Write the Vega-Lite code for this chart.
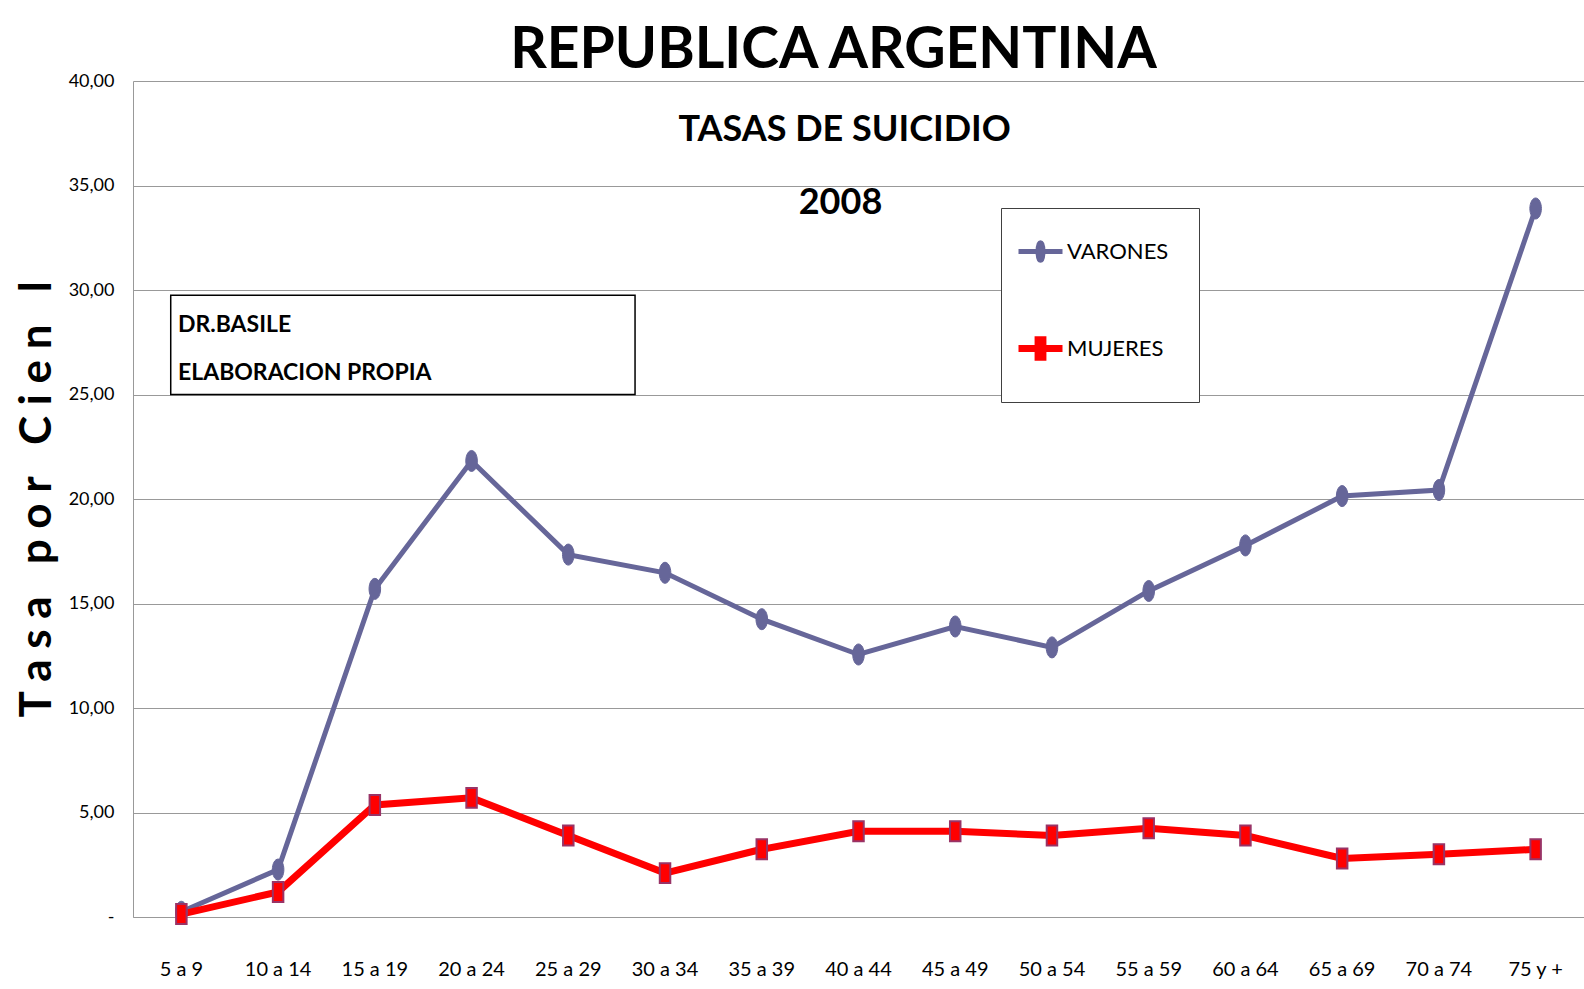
{
  "$schema": "https://vega.github.io/schema/vega-lite/v6.json",
  "width": 1451,
  "height": 836,
  "autosize": {"type": "none"},
  "padding": {"left": 133, "top": 81, "right": 0, "bottom": 72},
  "background": "white",
  "config": {"font": "Lato", "view": {"stroke": null}},
  "title": {"text": "REPUBLICA ARGENTINA", "font": "Lato", "fontSize": 57, "fontWeight": "bold", "color": "black", "anchor": "middle", "frame": "group", "dx": -25, "offset": -8},
  "data": {"values": [
    {"edad": "5 a 9", "sexo": "VARONES", "tasa": 0.25},
    {"edad": "10 a 14", "sexo": "VARONES", "tasa": 2.27},
    {"edad": "15 a 19", "sexo": "VARONES", "tasa": 15.7},
    {"edad": "20 a 24", "sexo": "VARONES", "tasa": 21.82},
    {"edad": "25 a 29", "sexo": "VARONES", "tasa": 17.34},
    {"edad": "30 a 34", "sexo": "VARONES", "tasa": 16.47},
    {"edad": "35 a 39", "sexo": "VARONES", "tasa": 14.25},
    {"edad": "40 a 44", "sexo": "VARONES", "tasa": 12.56},
    {"edad": "45 a 49", "sexo": "VARONES", "tasa": 13.9},
    {"edad": "50 a 54", "sexo": "VARONES", "tasa": 12.9},
    {"edad": "55 a 59", "sexo": "VARONES", "tasa": 15.6},
    {"edad": "60 a 64", "sexo": "VARONES", "tasa": 17.78},
    {"edad": "65 a 69", "sexo": "VARONES", "tasa": 20.14},
    {"edad": "70 a 74", "sexo": "VARONES", "tasa": 20.43},
    {"edad": "75 y +", "sexo": "VARONES", "tasa": 33.9},
    {"edad": "5 a 9", "sexo": "MUJERES", "tasa": 0.14},
    {"edad": "10 a 14", "sexo": "MUJERES", "tasa": 1.2},
    {"edad": "15 a 19", "sexo": "MUJERES", "tasa": 5.36},
    {"edad": "20 a 24", "sexo": "MUJERES", "tasa": 5.7},
    {"edad": "25 a 29", "sexo": "MUJERES", "tasa": 3.9},
    {"edad": "30 a 34", "sexo": "MUJERES", "tasa": 2.1},
    {"edad": "35 a 39", "sexo": "MUJERES", "tasa": 3.24},
    {"edad": "40 a 44", "sexo": "MUJERES", "tasa": 4.1},
    {"edad": "45 a 49", "sexo": "MUJERES", "tasa": 4.1},
    {"edad": "50 a 54", "sexo": "MUJERES", "tasa": 3.9},
    {"edad": "55 a 59", "sexo": "MUJERES", "tasa": 4.25},
    {"edad": "60 a 64", "sexo": "MUJERES", "tasa": 3.9},
    {"edad": "65 a 69", "sexo": "MUJERES", "tasa": 2.8},
    {"edad": "70 a 74", "sexo": "MUJERES", "tasa": 3.0},
    {"edad": "75 y +", "sexo": "MUJERES", "tasa": 3.24}
  ]},
  "resolve": {"scale": {"x": "independent"}},
  "layer": [
    {
      "layer": [
        {
          "mark": {"type": "point", "filled": true, "opacity": 0, "size": 484},
          "encoding": {
            "x": {"field": "edad", "type": "nominal", "sort": null, "scale": {"type": "band", "paddingInner": 0, "paddingOuter": 0},
              "axis": {"title": null, "labelAngle": 0, "ticks": false, "labelPadding": 42, "labelFontSize": 20, "labelFont": "Lato", "labelColor": "black", "domainColor": "#999999", "grid": false}},
            "y": {"field": "tasa", "type": "quantitative", "scale": {"domain": [0, 40], "nice": false},
              "axis": {"title": "T a s a \u00a0 p o r \u00a0 C i e n \u00a0 l", "titleFont": "Lato", "titleFontSize": 44, "titleFontWeight": "bold", "titleColor": "black", "titleAngle": -90, "titleX": -96, "titleY": 418, "titleAlign": "center", "titleBaseline": "middle",
                "values": [0, 5, 10, 15, 20, 25, 30, 35, 40],
                "labelExpr": "datum.value == 0 ? '-' : replace(format(datum.value, '.2f'), '.', ',')",
                "labelFont": "Lato", "labelFontSize": 18, "labelColor": "black", "labelPadding": 19, "ticks": false, "grid": true, "gridColor": "#999999", "domainColor": "#999999"}},
            "color": {"field": "sexo", "type": "nominal", "scale": {"domain": ["VARONES", "MUJERES"], "range": ["#666699", "#FF0000"]},
              "legend": {"title": null, "orient": "none", "legendX": 868, "legendY": 127, "fillColor": "white", "strokeColor": "#404040", "padding": 30, "rowPadding": 54, "labelFont": "Lato", "labelFontSize": 22, "labelColor": "black", "labelOffset": 12, "symbolSize": 484, "symbolOffset": -5, "symbolStrokeWidth": 5, "symbolOpacity": 1, "labelLimit": 300}},
            "stroke": {"field": "sexo", "type": "nominal", "scale": {"domain": ["VARONES", "MUJERES"], "range": ["#666699", "#FF0000"]}},
            "shape": {"field": "sexo", "type": "nominal", "scale": {"domain": ["VARONES", "MUJERES"], "range": ["M-2,0H2M0,-0.8A0.22,0.8,0,1,1,0,0.8A0.22,0.8,0,1,1,0,-0.8Z", "M-2,0H2M-0.22,-0.8H0.22V0.8H-0.22Z"]}}
          }
        },
        {
          "mark": {"type": "line"},
          "encoding": {
            "x": {"field": "edad", "type": "nominal", "sort": null},
            "y": {"field": "tasa", "type": "quantitative"},
            "color": {"field": "sexo", "type": "nominal", "legend": null},
            "strokeWidth": {"field": "sexo", "type": "nominal", "scale": {"domain": ["VARONES", "MUJERES"], "range": [5, 7]}, "legend": null}
          }
        },
        {
          "transform": [{"filter": "datum.sexo === 'VARONES'"}],
          "mark": {"type": "point", "filled": true, "opacity": 1, "fill": "#666699", "stroke": "#666699", "strokeWidth": 1, "size": 441, "shape": "M0,-1A0.55,1,0,1,1,0,1A0.55,1,0,1,1,0,-1Z"},
          "encoding": {
            "x": {"field": "edad", "type": "nominal", "sort": null},
            "y": {"field": "tasa", "type": "quantitative"}
          }
        },
        {
          "transform": [{"filter": "datum.sexo === 'MUJERES'"}],
          "mark": {"type": "point", "filled": true, "opacity": 1, "fill": "#FF0000", "stroke": "#993366", "strokeWidth": 2, "size": 441, "shape": "M-0.5,-0.95H0.5V0.95H-0.5Z"},
          "encoding": {
            "x": {"field": "edad", "type": "nominal", "sort": null},
            "y": {"field": "tasa", "type": "quantitative"}
          }
        }
      ]
    },
    {
      "data": {"values": [{}]},
      "layer": [
        {
          "mark": {"type": "rect", "fill": "white", "stroke": "black", "strokeWidth": 1.5},
          "encoding": {
            "x": {"datum": 0.39, "type": "quantitative", "scale": {"domain": [0, 15], "nice": false, "zero": false}, "axis": null},
            "x2": {"datum": 5.19},
            "y": {"datum": 29.75, "type": "quantitative"},
            "y2": {"datum": 25.0}
          }
        },
        {
          "mark": {"type": "text", "align": "left", "baseline": "middle", "font": "Lato", "fontSize": 23, "fontWeight": "bold", "color": "black"},
          "encoding": {
            "x": {"datum": 0.465, "type": "quantitative"},
            "y": {"datum": 28.34, "type": "quantitative"},
            "text": {"datum": "DR.BASILE"}
          }
        },
        {
          "mark": {"type": "text", "align": "left", "baseline": "middle", "font": "Lato", "fontSize": 23, "fontWeight": "bold", "color": "black"},
          "encoding": {
            "x": {"datum": 0.465, "type": "quantitative"},
            "y": {"datum": 26.04, "type": "quantitative"},
            "text": {"datum": "ELABORACION PROPIA"}
          }
        },
        {
          "mark": {"type": "text", "align": "center", "baseline": "middle", "font": "Lato", "fontSize": 36, "fontWeight": "bold", "color": "black"},
          "encoding": {
            "x": {"datum": 7.356, "type": "quantitative"},
            "y": {"datum": 37.66, "type": "quantitative"},
            "text": {"datum": "TASAS DE SUICIDIO"}
          }
        },
        {
          "mark": {"type": "text", "align": "center", "baseline": "middle", "font": "Lato", "fontSize": 36, "fontWeight": "bold", "color": "black"},
          "encoding": {
            "x": {"datum": 7.314, "type": "quantitative"},
            "y": {"datum": 34.16, "type": "quantitative"},
            "text": {"datum": "2008"}
          }
        }
      ]
    }
  ]
}
